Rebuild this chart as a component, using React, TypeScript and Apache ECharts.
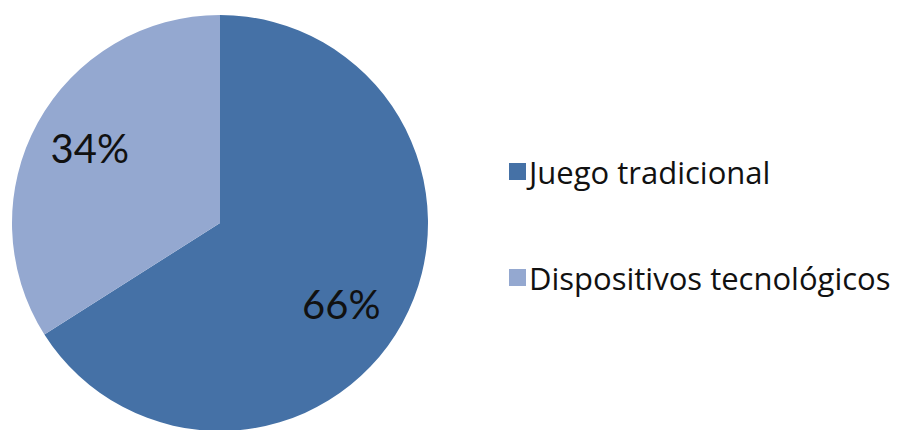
import React, { useEffect, useRef } from "react";
import * as echarts from "echarts";

const categories = ["Juego tradicional", "Dispositivos tecnológicos"];
const values = [66, 34];
const colors = ["#4571A6", "#94A8D0"];

export default function App() {
  const ref = useRef<HTMLDivElement>(null);
  useEffect(() => {
    if (!ref.current) return;
    const chart = echarts.init(ref.current, null, { renderer: "svg" });
    const data = categories.map((name, i) => ({
      name,
      value: values[i],
      itemStyle: { color: colors[i] },
    }));
    const labelOffsets = [
      [-9, 9],
      [0, -3],
    ];
    const R = 208;
    chart.setOption({
      animation: false,
      backgroundColor: "#ffffff",
      legend: {
        orient: "vertical",
        left: 504,
        top: 151,
        itemWidth: 17,
        itemHeight: 17,
        itemGap: 75,
        icon: "rect",
        data: categories,
        textStyle: {
          fontFamily: "Open Sans",
          fontSize: 31,
          lineHeight: 30,
          color: "#111111",
          padding: [0, 0, 0, -2],
        },
      },
      series: [
        {
          type: "pie",
          center: [220, 223],
          radius: [0, R],
          startAngle: 90,
          clockwise: true,
          silent: true,
          label: { show: false },
          labelLine: { show: false },
          data,
        },
        {
          type: "pie",
          center: [220, 223],
          radius: [R * 0.4, R],
          startAngle: 90,
          clockwise: true,
          silent: true,
          itemStyle: { color: "transparent" },
          label: {
            show: true,
            position: "inside",
            formatter: (p: any) => p.value + "%",
            fontFamily: "Lato",
            fontSize: 40,
            color: "#111111",
          },
          labelLine: { show: false },
          legendHoverLink: false,
          data: data.map((d, i) => ({
            ...d,
            itemStyle: { color: "transparent" },
            label: { offset: labelOffsets[i] },
          })),
        },
      ],
    });
    return () => chart.dispose();
  }, []);
  return (
    <div
      ref={ref}
      style={{ position: "fixed", left: 0, top: 0, width: 902, height: 430 }}
    />
  );
}
